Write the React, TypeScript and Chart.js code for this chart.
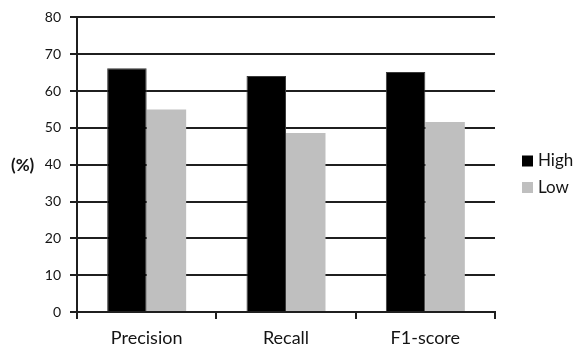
import React, { useEffect, useRef } from "react";
import { Chart, registerables } from "chart.js";

Chart.register(...registerables);

const categories = ["Precision", "Recall", "F1-score"];
const highValues = [66.2, 64.1, 65.2];
const lowValues = [55.0, 48.6, 51.6];
const seriesNames = ["High", "Low"];
const seriesColors = ["#000000", "#bfbfbf"];
const yTicks = [0, 10, 20, 30, 40, 50, 60, 70, 80];
const yAxisLabel = "(%)";

const FONT = "Lato, 'Open Sans', sans-serif";
const INK = "#141414";
const LINE = "#1f1f1f";

export default function App() {
  const ref = useRef<HTMLCanvasElement | null>(null);

  useEffect(() => {
    if (!ref.current) return;
    const overlay = {
      id: "overlay",
      afterDraw(chart: any) {
        const ctx = chart.ctx;
        const area = chart.chartArea;
        const ys = chart.scales.y;
        ctx.save();
        ctx.fillStyle = INK;
        ctx.font = `bold 17px ${FONT}`;
        ctx.textAlign = "left";
        ctx.textBaseline = "middle";
        ctx.fillText(yAxisLabel, 11, ys.getPixelForValue(40) + 1);
        ctx.font = `17px ${FONT}`;
        const boxX = area.right + 27;
        const rows = [161, 187.5];
        seriesNames.forEach((name, i) => {
          const cy = rows[i];
          ctx.fillStyle = seriesColors[i];
          ctx.fillRect(boxX, cy - 5.5, 11, 11);
          ctx.fillStyle = INK;
          ctx.fillText(name, boxX + 16, cy);
        });
        ctx.restore();
      },
    };

    const chart = new Chart(ref.current, {
      type: "bar",
      data: {
        labels: categories,
        datasets: [
          {
            label: seriesNames[0],
            data: highValues,
            backgroundColor: seriesColors[0],
            borderColor: "#3a3a3a",
            borderWidth: 1,
          },
          {
            label: seriesNames[1],
            data: lowValues,
            backgroundColor: seriesColors[1],
            borderWidth: 0,
          },
        ],
      },
      options: {
        responsive: false,
        animation: false,
        devicePixelRatio: 1,
        layout: { padding: { left: 0, right: 81, top: 12, bottom: 0 } },
        plugins: {
          legend: { display: false },
          tooltip: { enabled: false },
        },
        datasets: {
          bar: { categoryPercentage: 0.567, barPercentage: 1 },
        },
        scales: {
          x: {
            offset: true,
            grid: {
              display: true,
              offset: true,
              drawOnChartArea: false,
              drawTicks: true,
              tickLength: 7,
              color: LINE,
              lineWidth: 2,
            },
            border: { display: true, color: LINE, width: 2 },
            ticks: {
              color: INK,
              font: { family: FONT, size: 18 },
              padding: 8,
            },
            afterFit(scale: any) {
              scale.height = 39;
            },
          },
          y: {
            min: 0,
            max: 80,
            afterBuildTicks(scale: any) {
              scale.ticks = yTicks.map((v) => ({ value: v }));
            },
            grid: {
              color: LINE,
              lineWidth: 2,
              drawTicks: true,
              tickLength: 7,
            },
            border: { display: true, color: LINE, width: 2 },
            ticks: {
              color: INK,
              font: { family: FONT, size: 14 },
              padding: 9,
            },
            afterFit(scale: any) {
              scale.width = 77;
            },
          },
        },
      },
      plugins: [overlay],
    });
    return () => chart.destroy();
  }, []);

  return (
    <div style={{ position: "absolute", left: 0, top: 0, width: 576, height: 351, background: "#fff" }}>
      <canvas ref={ref} width={576} height={351} style={{ display: "block", width: 576, height: 351 }} />
    </div>
  );
}
